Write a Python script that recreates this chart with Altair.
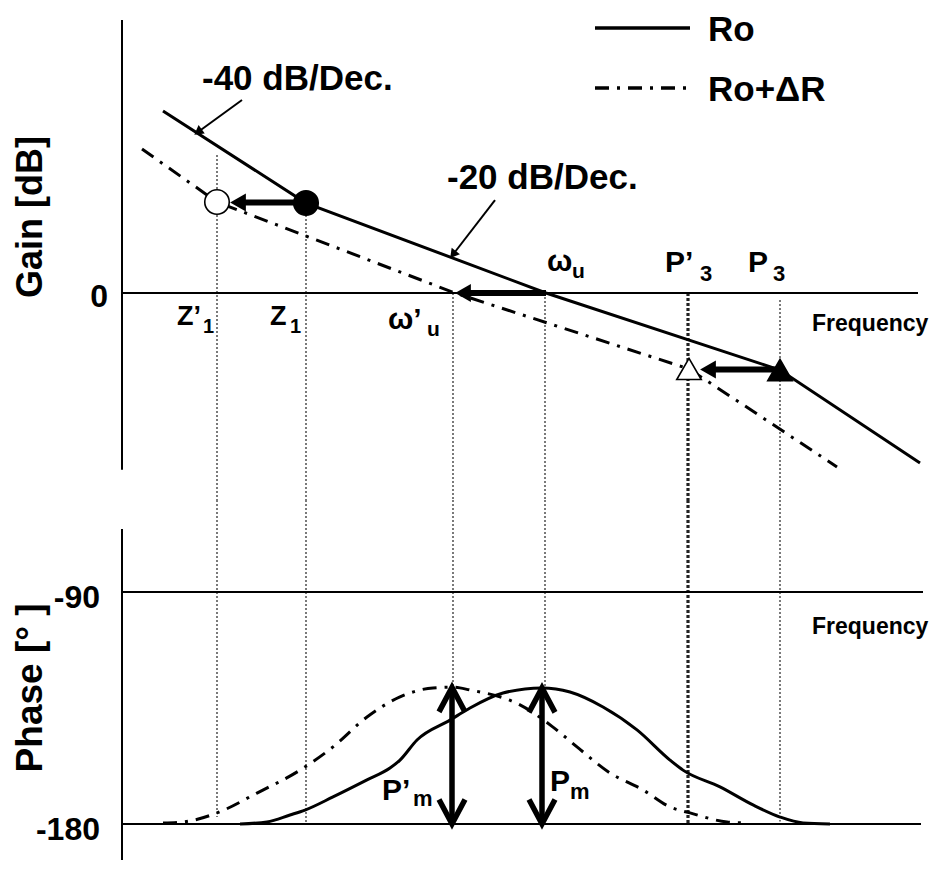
import altair as alt
import pandas as pd

# ---------------- data ----------------
# x: log-frequency in decades from the axis origin; gain in dB; phase in degrees
ro_gain_x = [0.41, 1.84, 4.24, 6.58, 7.98]
ro_gain_db = [104.0, 51.4, 0.0, -44.0, -97.1]
dr_gain_x = [0.20, 0.95, 3.33, 5.67, 7.15]
dr_gain_db = [82.3, 52.0, 0.0, -43.4, -99.4]

ro_phase_x = [1.18, 1.45, 1.68, 1.83, 2.11, 2.45, 2.68, 2.78, 2.95, 3.28, 3.48, 3.81,
              4.20, 4.48, 4.81, 5.15, 5.48, 5.61, 5.98, 6.31, 6.58, 6.81, 7.08]
ro_phase_deg = [-180.0, -179.2, -176.5, -174.6, -169.5, -162.9, -158.3, -155.2, -147.4,
                -139.7, -135.0, -129.2, -127.2, -128.8, -134.6, -143.5, -155.2, -159.1,
                -165.6, -172.6, -177.3, -179.6, -180.0]
dr_phase_x = [0.41, 0.61, 0.95, 1.35, 1.78, 2.11, 2.45, 2.78, 3.11, 3.30, 3.48, 3.98,
              4.31, 4.55, 4.88, 5.21, 5.48, 5.68, 6.05, 6.25]
dr_phase_deg = [-179.6, -179.2, -175.7, -168.0, -159.1, -150.1, -138.5, -130.7, -127.2,
                -126.9, -128.0, -133.8, -142.4, -150.1, -160.2, -166.8, -173.4, -175.7,
                -179.2, -179.6]

# vertical guide lines: Z'1, Z1, w'u, wu, P'3, P3
guide_name = ["Z'1", "Z1", "w'u", "wu", "P'3", "P3"]
guide_x = [0.95, 1.84, 3.31, 4.23, 5.66, 6.58]
guide_gain_top = [78.9, 51.4, 0.0, 0.0, 0.0, -4.0]
guide_phase_end = [-177.3, -180.0, -127.5, -128.0, -180.0, -179.0]

# markers (zero / pole positions)
marker_x = [1.84, 0.95, 6.58, 5.67]
marker_db = [51.4, 52.0, -44.0, -43.4]
marker_shape = ["circle", "circle", "triangle-up", "triangle-up"]
marker_fill = ["black", "white", "black", "white"]

# shift arrows (Ro -> Ro+dR)
shift_from_x = [1.84, 4.24, 6.58]
shift_to_x = [1.08, 3.33, 5.78]
shift_db = [51.7, 0.0, -43.7]

# slope annotations
slope_text = ["-40 dB/Dec.", "-20 dB/Dec."]
slope_text_x = [0.80, 3.25]
slope_text_db = [122.3, 65.7]
pointer_x1 = [1.20, 3.73]
pointer_db1 = [110.3, 53.1]
pointer_x2 = [0.76, 3.31]
pointer_db2 = [92.0, 22.0]

# phase margins
pm_x = [3.30, 4.20]
pm_top_deg = [-127.0, -127.2]
pm_bottom_deg = [-180.0, -180.0]

# labels
gain_labels = ["Z’", "1", "Z", "1", "ω’", "u", "ω", "u", "P’", "3", "P", "3", "Frequency",
               "Ro", "Ro+ΔR"]
gain_labels_x = [0.55, 0.81, 1.48, 1.68, 2.66, 3.05, 4.25, 4.50, 5.43, 5.78, 6.26, 6.51, 6.90,
                 5.86, 5.86]
gain_labels_db = [-13.7, -19.5, -13.7, -19.5, -15.4, -21.1, 17.7, 12.0, 17.1, 10.9, 17.1, 10.9,
                  -17.7, 150.3, 116.0]
gain_labels_size = [27, 20, 27, 20, 30, 21, 30, 21, 30, 22, 30, 22, 23, 35, 35]

phase_labels = ["P’", "m", "P", "m", "Frequency"]
phase_labels_x = [2.60, 2.91, 4.28, 4.48, 6.90]
phase_labels_deg = [-167.2, -170.3, -163.7, -167.6, -103.6]
phase_labels_size = [30, 22, 30, 22, 23]

gain_ticks = ["0"]
gain_ticks_db = [-2.3]
phase_ticks = ["-90", "-180"]
phase_ticks_deg = [-92.3, -182.3]

legend_db = [151.4, 117.1]
legend_x = [4.73, 5.68]

# ---------------- layout ----------------
W = 922
HG = 492
HP = 362
XS = alt.Scale(domain=[-1.14, 8.08], nice=False, zero=False)
GAIN_MIN, GAIN_MAX = -118.29, 162.86
PH_MIN, PH_MAX = -194.74, -54.31
YGS = alt.Scale(domain=[GAIN_MIN, GAIN_MAX], nice=False, zero=False)
YPS = alt.Scale(domain=[PH_MIN, PH_MAX], nice=False, zero=False)
FONT = "Liberation Sans"
DASHDOT = [14, 8, 3, 8]


def X(f):
    return alt.X(f"{f}:Q", scale=XS, axis=None)


def YG(f):
    return alt.Y(f"{f}:Q", scale=YGS, axis=None)


def YP(f):
    return alt.Y(f"{f}:Q", scale=YPS, axis=None)


# ---------------- gain panel ----------------
g_axis = alt.Chart(pd.DataFrame({"x": [0.0], "y": [156.0], "y2": [-101.0]})).mark_rule(
    color="black", strokeWidth=2).encode(x=X("x"), y=YG("y"), y2=alt.Y2("y2"))
g_zero = alt.Chart(pd.DataFrame({"x": [0.0], "x2": [7.96], "y": [0.0]})).mark_rule(
    color="black", strokeWidth=2).encode(x=X("x"), x2=alt.X2("x2"), y=YG("y"))

gd = pd.DataFrame({"name": guide_name, "x": guide_x, "top": guide_gain_top,
                   "bottom": [GAIN_MIN] * len(guide_x), "pend": guide_phase_end,
                   "ptop": [PH_MAX] * len(guide_x)})
g_guides = alt.Chart(gd[gd["name"] != "P'3"]).mark_rule(
    color="#333333", strokeWidth=1.3, strokeDash=[2, 2]).encode(
    x=X("x"), y=YG("top"), y2=alt.Y2("bottom"))
g_guide_heavy = alt.Chart(gd[gd["name"] == "P'3"]).mark_rule(
    color="#222222", strokeWidth=3.2, strokeDash=[3, 2]).encode(
    x=X("x"), y=YG("top"), y2=alt.Y2("bottom"))

ro_g = alt.Chart(pd.DataFrame({"x": ro_gain_x, "y": ro_gain_db})).mark_line(
    color="black", strokeWidth=3).encode(x=X("x"), y=YG("y"))
dr_g = alt.Chart(pd.DataFrame({"x": dr_gain_x, "y": dr_gain_db})).mark_line(
    color="black", strokeWidth=3, strokeDash=DASHDOT).encode(x=X("x"), y=YG("y"))

sd = pd.DataFrame({"x": shift_from_x, "tip": shift_to_x, "y": shift_db})
sd["shaft_end"] = sd["tip"] + 0.10
sd["head"] = sd["tip"] + 0.08
shift_shaft = alt.Chart(sd).mark_rule(color="black", strokeWidth=6).encode(
    x=X("x"), x2=alt.X2("shaft_end"), y=YG("y"))
shift_head = alt.Chart(sd).mark_point(shape="triangle-left", filled=True, size=330,
                                      color="black", opacity=1).encode(x=X("head"), y=YG("y"))

md = pd.DataFrame({"x": marker_x, "y": marker_db, "shape": marker_shape, "fill": marker_fill})
markers = alt.Chart(md).mark_point(filled=True, size=600, stroke="black", strokeWidth=1.6,
                                   opacity=1).encode(
    x=X("x"), y=YG("y"), shape=alt.Shape("shape:N", scale=None),
    fill=alt.Fill("fill:N", scale=None))

pdf = pd.DataFrame({"x": pointer_x1, "y": pointer_db1, "x2": pointer_x2, "y2": pointer_db2})
pointers = alt.Chart(pdf).mark_rule(color="black", strokeWidth=2).encode(
    x=X("x"), y=YG("y"), x2=alt.X2("x2"), y2=alt.Y2("y2"))
ph1 = alt.Chart(pdf.iloc[[0]]).mark_point(shape="triangle-up", angle=234, filled=True,
                                           size=110, color="black", opacity=1).encode(
    x=X("x2"), y=YG("y2"))
ph2 = alt.Chart(pdf.iloc[[1]]).mark_point(shape="triangle-up", angle=218, filled=True,
                                           size=110, color="black", opacity=1).encode(
    x=X("x2"), y=YG("y2"))

legend_solid = alt.Chart(pd.DataFrame({"x": [legend_x[0]], "x2": [legend_x[1]],
                                       "y": [legend_db[0]]})).mark_rule(
    color="black", strokeWidth=3.5).encode(x=X("x"), x2=alt.X2("x2"), y=YG("y"))
legend_dash = alt.Chart(pd.DataFrame({"x": [legend_x[0]], "x2": [legend_x[1]],
                                      "y": [legend_db[1]]})).mark_rule(
    color="black", strokeWidth=3.5, strokeDash=DASHDOT).encode(x=X("x"), x2=alt.X2("x2"), y=YG("y"))

gl = pd.DataFrame({"x": gain_labels_x, "y": gain_labels_db, "t": gain_labels,
                   "fs": gain_labels_size})
g_text = alt.Chart(gl).mark_text(font=FONT, fontWeight="bold", align="left",
                                 baseline="middle", color="black").encode(
    x=X("x"), y=YG("y"), text="t:N", size=alt.Size("fs:Q", scale=None))
st = pd.DataFrame({"x": slope_text_x, "y": slope_text_db, "t": slope_text})
s_text = alt.Chart(st).mark_text(font=FONT, fontWeight="bold", align="left",
                                 baseline="middle", fontSize=35, color="black").encode(
    x=X("x"), y=YG("y"), text="t:N")
gt = pd.DataFrame({"x": [-0.14] * len(gain_ticks), "y": gain_ticks_db, "t": gain_ticks})
g_ticks = alt.Chart(gt).mark_text(font=FONT, fontWeight="bold", align="right",
                                  baseline="middle", fontSize=32, color="black").encode(
    x=X("x"), y=YG("y"), text="t:N")
g_title = alt.Chart(pd.DataFrame({"x": [-0.91], "y": [43.4], "t": ["Gain [dB]"]})).mark_text(
    font=FONT, fontWeight="bold", align="center", baseline="middle", fontSize=36, angle=270,
    color="black").encode(x=X("x"), y=YG("y"), text="t:N")

gain_panel = alt.layer(
    g_guides, g_guide_heavy, g_axis, g_zero, dr_g, ro_g, pointers, ph1, ph2,
    shift_shaft, shift_head, markers, legend_solid, legend_dash,
    g_text, s_text, g_ticks, g_title
).properties(width=W, height=HG)

# ---------------- phase panel ----------------
p_axis = alt.Chart(pd.DataFrame({"x": [0.0], "y": [-65.6], "y2": [-194.0]})).mark_rule(
    color="black", strokeWidth=2).encode(x=X("x"), y=YP("y"), y2=alt.Y2("y2"))
p_lines = alt.Chart(pd.DataFrame({"x": [0.0, 0.0], "x2": [8.01, 7.99],
                                  "y": [-90.0, -180.0]})).mark_rule(
    color="black", strokeWidth=2).encode(x=X("x"), x2=alt.X2("x2"), y=YP("y"))
p_guides = alt.Chart(gd[gd["name"] != "P'3"]).mark_rule(
    color="#333333", strokeWidth=1.3, strokeDash=[2, 2]).encode(
    x=X("x"), y=YP("ptop"), y2=alt.Y2("pend"))
p_guide_heavy = alt.Chart(gd[gd["name"] == "P'3"]).mark_rule(
    color="#222222", strokeWidth=3.2, strokeDash=[3, 2]).encode(
    x=X("x"), y=YP("ptop"), y2=alt.Y2("pend"))

ro_p = alt.Chart(pd.DataFrame({"x": ro_phase_x, "y": ro_phase_deg})).mark_line(
    color="black", strokeWidth=3, interpolate="monotone").encode(x=X("x"), y=YP("y"))
dr_p = alt.Chart(pd.DataFrame({"x": dr_phase_x, "y": dr_phase_deg})).mark_line(
    color="black", strokeWidth=3, strokeDash=DASHDOT, interpolate="monotone").encode(
    x=X("x"), y=YP("y"))

pmd = pd.DataFrame({"x": pm_x, "top": pm_top_deg, "bottom": pm_bottom_deg})
pm_shaft = alt.Chart(pmd).mark_rule(color="black", strokeWidth=5.5).encode(
    x=X("x"), y=YP("top"), y2=alt.Y2("bottom"))
chev_rows = []
for i, (xx, tp, bt) in enumerate(zip(pm_x, pm_top_deg, pm_bottom_deg)):
    for dx, dy_top, dy_bot in ((-0.13, -9.5, 9.5), (0.0, 0.0, 0.0), (0.13, -9.5, 9.5)):
        chev_rows.append({"g": f"t{i}", "x": xx + dx, "y": tp + dy_top})
        chev_rows.append({"g": f"b{i}", "x": xx + dx, "y": bt + dy_bot})
chev = alt.Chart(pd.DataFrame(chev_rows)).mark_line(
    color="black", strokeWidth=5.5, strokeJoin="miter", strokeCap="butt").encode(
    x=X("x"), y=YP("y"), detail="g:N")

pl = pd.DataFrame({"x": phase_labels_x, "y": phase_labels_deg, "t": phase_labels,
                   "fs": phase_labels_size})
p_text = alt.Chart(pl).mark_text(font=FONT, fontWeight="bold", align="left",
                                 baseline="middle", color="black").encode(
    x=X("x"), y=YP("y"), text="t:N", size=alt.Size("fs:Q", scale=None))
pt = pd.DataFrame({"x": [-0.22] * len(phase_ticks), "y": phase_ticks_deg, "t": phase_ticks})
p_ticks = alt.Chart(pt).mark_text(font=FONT, fontWeight="bold", align="right",
                                  baseline="middle", fontSize=32, color="black").encode(
    x=X("x"), y=YP("y"), text="t:N")
p_title = alt.Chart(pd.DataFrame({"x": [-0.91], "y": [-127.2], "t": ["Phase [°   ]"]})).mark_text(
    font=FONT, fontWeight="bold", align="center", baseline="middle", fontSize=37, angle=270,
    color="black").encode(x=X("x"), y=YP("y"), text="t:N")

phase_panel = alt.layer(
    p_guides, p_guide_heavy, p_axis, p_lines, dr_p, ro_p, pm_shaft, chev,
    p_text, p_ticks, p_title
).properties(width=W, height=HP)

chart = alt.vconcat(gain_panel, phase_panel, spacing=0, bounds="flush").resolve_scale(
    x="independent", y="independent"
).configure_view(stroke=None).properties(padding=0, background="white")

chart.save("out.html", embed_options={"renderer": "svg", "actions": False})
